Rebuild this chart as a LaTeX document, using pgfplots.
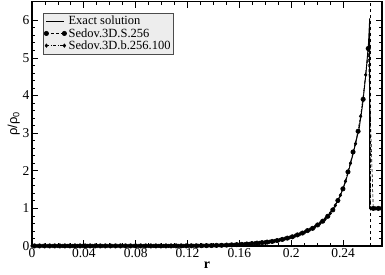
\documentclass[border=0pt]{standalone}
\usepackage{fontspec}
\setmainfont{Liberation Serif}
\newfontfamily\sansf{Liberation Sans}
\usepackage{pgfplots}
\pgfplotsset{compat=1.18}
\pgfplotsset{
  twoends/.style={legend image code/.code={
    \draw[##1, mark repeat=1] plot coordinates {(2pt,0pt) (20pt,0pt)};}},
}
\begin{document}
\begin{tikzpicture}
\useasboundingbox (-32pt,-28pt) rectangle (353pt,246pt);
\begin{axis}[
  scale only axis,
  width=350pt, height=244.5pt,
  xmin=0, xmax=0.27, ymin=0, ymax=6.5,
  xtick={0,0.04,0.08,0.12,0.16,0.2,0.24},
  xticklabels={0,0.04,0.08,0.12,0.16,0.2,0.24},
  ytick={0,1,2,3,4,5,6},
  minor x tick num=3, minor y tick num=4,
  tick align=inside,
  major tick length=6pt, minor tick length=3pt,
  every tick/.style={black, line width=0.8pt},
  axis line style={line width=1.1pt},
  tick label style={font=\fontsize{13.5}{14}\selectfont},
  /pgf/number format/assume math mode=true,
  xticklabel style={yshift=1pt},
  yticklabel style={xshift=1pt},
  xlabel={\fontsize{14}{15}\selectfont\bfseries r},
  ylabel={\fontsize{13}{14}\selectfont\sansf ρ/ρ\textsubscript{0}},
  xlabel style={yshift=3pt},
  ylabel style={yshift=-4pt},
  legend style={at={(axis description cs:0,1)}, anchor=north west,
    xshift=11pt, yshift=-11.5pt, fill=black!7, draw=black!70,
    font=\fontsize{12.5}{13}\selectfont, inner sep=1pt, row sep=-2pt,
    cells={anchor=west}},
]
\addplot[black, line width=0.9pt, twoends] coordinates {
(0,0) (0.06,0.0001) (0.08,0.0002) (0.10,0.0008) (0.12,0.004) (0.13,0.008)
(0.14,0.014) (0.15,0.024) (0.16,0.040) (0.17,0.064) (0.18,0.100) (0.19,0.155)
(0.20,0.235) (0.205,0.29) (0.21,0.36) (0.215,0.45) (0.22,0.56) (0.225,0.69)
(0.23,0.88) (0.2325,1.0) (0.235,1.15) (0.2375,1.32) (0.24,1.52) (0.2425,1.78)
(0.245,2.10) (0.2475,2.42) (0.25,2.78) (0.2525,3.15) (0.255,3.75) (0.2575,4.55)
(0.2595,5.35) (0.2605,6.05) (0.2605,1.0) (0.27,1.0)
};
\addlegendentry{Exact solution}
\addplot[black, densely dashed, line width=0.6pt, mark=*, mark size=2.2pt,
  mark options={solid}, twoends] coordinates {
(0.00195,0.002) (0.00585,0.002) (0.00975,0.002) (0.01365,0.002) (0.01755,0.002)
(0.02145,0.002) (0.02535,0.002) (0.02925,0.002) (0.03315,0.002) (0.03705,0.002)
(0.04095,0.002) (0.04485,0.002) (0.04875,0.002) (0.05265,0.002) (0.05655,0.002)
(0.06045,0.002) (0.06435,0.002) (0.06825,0.002) (0.07215,0.002) (0.07605,0.002)
(0.07995,0.002) (0.08385,0.002) (0.08775,0.002) (0.09165,0.002) (0.09555,0.002)
(0.09945,0.002) (0.10335,0.002) (0.10725,0.002) (0.11115,0.003) (0.11505,0.003)
(0.11895,0.004) (0.12285,0.005) (0.12675,0.006) (0.13065,0.008) (0.13455,0.010)
(0.13845,0.012) (0.14235,0.016) (0.14625,0.019) (0.15015,0.024) (0.15405,0.030)
(0.15795,0.036) (0.16185,0.044) (0.16575,0.053) (0.16965,0.064) (0.17355,0.076)
(0.17745,0.089) (0.18135,0.104) (0.18525,0.122) (0.18915,0.145) (0.19305,0.175)
(0.19695,0.21) (0.20085,0.245) (0.20475,0.295) (0.20865,0.345) (0.21255,0.41)
(0.21645,0.47) (0.22035,0.56) (0.22425,0.66) (0.22815,0.79) (0.23205,0.96)
(0.23595,1.21) (0.23985,1.52) (0.24375,1.97) (0.24765,2.50) (0.25155,3.05)
(0.25545,3.90) (0.25935,5.25) (0.26325,1.0) (0.26715,1.0) (0.2705,1.0)
};
\addlegendentry{Sedov.3D.S.256}
\addplot[black, dash pattern=on 3pt off 1.5pt on 1pt off 1.5pt, line width=0.6pt,
  mark=diamond*, mark size=1.7pt, mark options={solid}, twoends] coordinates {
(0.0000,0.002) (0.0039,0.002) (0.0078,0.002) (0.0117,0.002) (0.0156,0.002)
(0.0195,0.002) (0.0234,0.002) (0.0273,0.002) (0.0312,0.002) (0.0351,0.002)
(0.0390,0.002) (0.0429,0.002) (0.0468,0.002) (0.0507,0.002) (0.0546,0.002)
(0.0585,0.002) (0.0624,0.002) (0.0663,0.002) (0.0702,0.002) (0.0741,0.002)
(0.0780,0.002) (0.0819,0.002) (0.0858,0.002) (0.0897,0.002) (0.0936,0.002)
(0.0975,0.002) (0.1014,0.002) (0.1053,0.002) (0.1092,0.002) (0.1131,0.003)
(0.1170,0.003) (0.1209,0.004) (0.1248,0.005) (0.1287,0.007) (0.1326,0.009)
(0.1365,0.011) (0.1404,0.014) (0.1443,0.017) (0.1482,0.021) (0.1521,0.027)
(0.1560,0.033) (0.1599,0.040) (0.1638,0.048) (0.1677,0.058) (0.1716,0.070)
(0.1755,0.082) (0.1794,0.096) (0.1833,0.113) (0.1872,0.132) (0.1911,0.160)
(0.1950,0.192) (0.1989,0.226) (0.2028,0.268) (0.2067,0.318) (0.2106,0.375)
(0.2145,0.44) (0.2184,0.515) (0.2223,0.61) (0.2262,0.72) (0.2301,0.87)
(0.2340,1.08) (0.2379,1.35) (0.2418,1.72) (0.2457,2.20) (0.2496,2.72)
(0.2535,3.45) (0.2574,4.55) (0.2602,5.28) (0.2613,1.0) (0.2652,1.0)
(0.2691,1.0)
};
\addlegendentry{Sedov.3D.b.256.100}
\addplot[black, dashed, line width=0.6pt, forget plot] coordinates {
(0.2607,0) (0.2607,6.5)
};
\end{axis}
\end{tikzpicture}
\end{document}
